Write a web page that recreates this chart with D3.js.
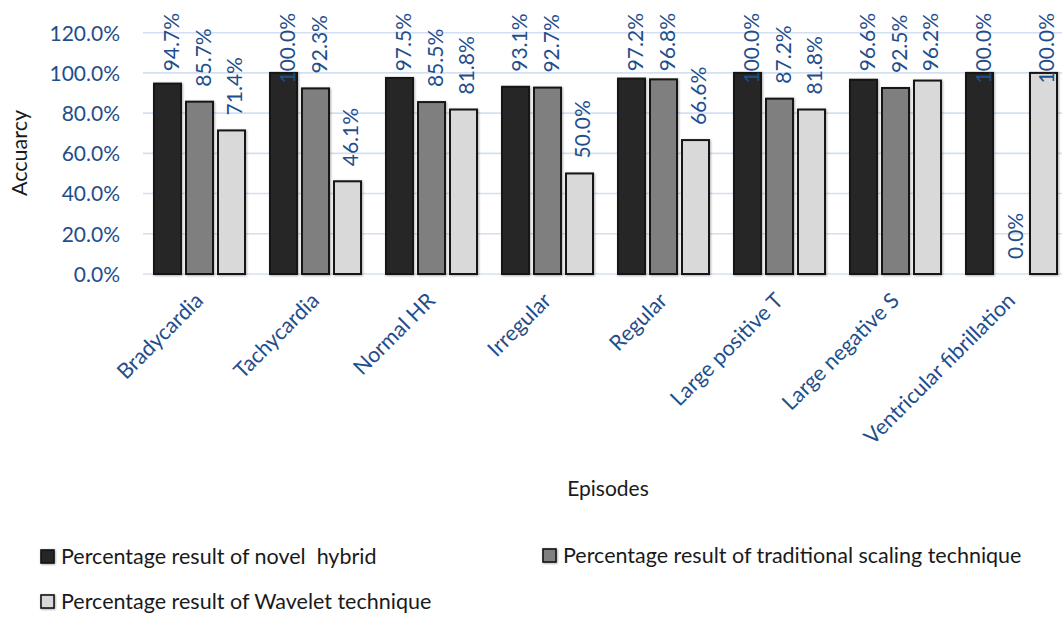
<!DOCTYPE html>
<html>
<head>
<meta charset="utf-8">
<script src="https://cdn.jsdelivr.net/npm/d3@7"></script>
<style>
  html, body { margin: 0; padding: 0; background: #fff; }
  svg { display: block; font-family: Lato, "Open Sans", sans-serif; }
</style>
</head>
<body>
<svg id="chart" width="1062" height="617"></svg>
<script>
// Episode categories and accuracy per technique (percent)
const categories = ["Bradycardia", "Tachycardia", "Normal HR", "Irregular", "Regular",
  "Large positive T", "Large negative S", "Ventricular fibrillation"];
const novelHybrid = [94.7, 100.0, 97.5, 93.1, 97.2, 100.0, 96.6, 100.0];
const traditionalScaling = [85.7, 92.3, 85.5, 92.7, 96.8, 87.2, 92.5, 0.0];
const waveletTechnique = [71.4, 46.1, 81.8, 50.0, 66.6, 81.8, 96.2, 100.0];
const seriesNames = ["Percentage result of novel  hybrid",
  "Percentage result of traditional scaling technique",
  "Percentage result of Wavelet technique"];
const yTicks = [0, 20, 40, 60, 80, 100, 120];

const seriesValues = [novelHybrid, traditionalScaling, waveletTechnique];
const fills = ["#262626", "#7f7f7f", "#d9d9d9"];
const labelBlue = "#1f4e8c";

const svg = d3.select("#chart");
const plot = { left: 141.5, right: 1069.5, top: 32.7, bottom: 274 };
const groupWidth = 91;

const x = d3.scaleBand().domain(categories).range([plot.left, plot.right]).paddingInner(0).paddingOuter(0);
const xs = d3.scaleBand().domain(d3.range(3)).range([0, groupWidth]).paddingInner(0.156).paddingOuter(0);
const groupOffset = (x.bandwidth() - groupWidth) / 2;
const y = d3.scaleLinear().domain([0, 120]).range([plot.bottom, plot.top]);

const defs = svg.append("defs");
const f = defs.append("filter").attr("id", "soft").attr("x", "-20%").attr("y", "-20%").attr("width", "140%").attr("height", "140%");
f.append("feDropShadow").attr("dx", 0.8).attr("dy", 0.8).attr("stdDeviation", 1).attr("flood-color", "#000").attr("flood-opacity", 0.35);

// Gridlines and y tick labels
const yAxis = d3.axisLeft(y).tickValues(yTicks).tickSize(0).tickPadding(0)
  .tickFormat(d => d.toFixed(1) + "%");
const ya = svg.append("g").attr("transform", `translate(120,0)`).call(yAxis);
ya.select(".domain").remove();
ya.selectAll("text").attr("fill", labelBlue).style("font-size", "21px")
  .style("font-family", "Lato, sans-serif").attr("dy", "0.35em");

svg.append("g").selectAll("line").data(yTicks).join("line")
  .attr("x1", 143).attr("x2", 1062)
  .attr("y1", d => y(d)).attr("y2", d => y(d))
  .attr("stroke", "#d3e0f3").attr("stroke-width", 1.6);

// Bars
const rows = [];
categories.forEach((c, i) => {
  seriesValues.forEach((vals, s) => rows.push({ cat: c, s, v: vals[i] }));
});

const barG = svg.append("g");
barG.selectAll("rect").data(rows).join("rect")
  .attr("x", d => x(d.cat) + groupOffset + xs(d.s))
  .attr("width", xs.bandwidth())
  .attr("y", d => y(d.v))
  .attr("height", d => y(0) - y(d.v))
  .attr("fill", d => fills[d.s])
  .attr("stroke", "#141414").attr("stroke-width", 2)
  .attr("filter", "url(#soft)");

// Value labels, rotated; pushed down when they would run past the top edge
const labG = svg.append("g");
labG.selectAll("text").data(rows).join("text")
  .text(d => d.v.toFixed(1) + "%")
  .attr("fill", labelBlue).style("font-size", "21px")
  .attr("text-anchor", "start")
  .attr("dominant-baseline", "central")
  .each(function (d) {
    const len = this.getComputedTextLength();
    const cx = x(d.cat) + groupOffset + xs(d.s) + xs.bandwidth() / 2 + 2.5;
    const bottom = Math.max(y(d.v) - 15, 13 + len);
    d3.select(this).attr("transform", `translate(${cx},${bottom}) rotate(-90)`);
  });

// Category labels
svg.append("g").selectAll("text").data(categories).join("text")
  .text(d => d)
  .attr("fill", labelBlue).style("font-size", "21.5px")
  .attr("text-anchor", "end")
  .attr("transform", d => `translate(${x(d) + x.bandwidth() / 2 + 5},${302}) rotate(-45)`);

// Axis titles
svg.append("text").text("Accuarcy")
  .attr("fill", "#1a1a1a").style("font-size", "21.5px")
  .attr("text-anchor", "middle")
  .attr("transform", "translate(27,153) rotate(-90)");

svg.append("text").text("Episodes")
  .attr("fill", "#1a1a1a").style("font-size", "21px")
  .attr("text-anchor", "middle")
  .attr("x", 608).attr("y", 496);

// Legend
const legendPos = [{ x: 41, y: 550 }, { x: 543, y: 549 }, { x: 41, y: 595 }];
const lg = svg.append("g");
seriesNames.forEach((name, i) => {
  const p = legendPos[i];
  lg.append("rect").attr("x", p.x).attr("y", p.y).attr("width", 13).attr("height", 13)
    .attr("fill", fills[i]).attr("stroke", "#141414").attr("stroke-width", 1.6)
    .attr("filter", "url(#soft)");
  lg.append("text").text(name)
    .attr("x", p.x + 20).attr("y", p.y + 14)
    .attr("fill", "#1a1a1a").style("font-size", "21.5px")
    .style("white-space", "pre").attr("xml:space", "preserve");
});
</script>
</body>
</html>
